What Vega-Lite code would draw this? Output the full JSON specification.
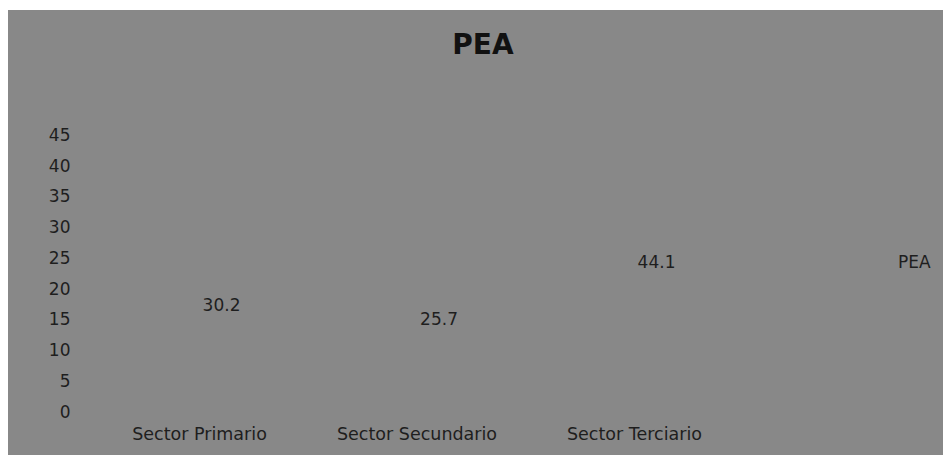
{
  "$schema": "https://vega.github.io/schema/vega-lite/v6.json",
  "width": 935,
  "height": 445,
  "autosize": {"type": "none"},
  "padding": {"left": 8, "top": 10, "right": 0, "bottom": 0},
  "background": "#ffffff",
  "config": {"view": {"fill": "#888888", "stroke": null}, "font": "DejaVu Sans"},
  "title": {"text": "PEA", "fontSize": 28, "fontWeight": "bold", "color": "#111111", "font": "DejaVu Sans", "anchor": "middle", "dx": 7.5, "baseline": "alphabetic", "offset": -72},
  "data": {"values": [
    {"sector": "Sector Primario", "valor": 30.2, "serie": "PEA"},
    {"sector": "Sector Secundario", "valor": 25.7, "serie": "PEA"},
    {"sector": "Sector Terciario", "valor": 44.1, "serie": "PEA"}
  ]},
  "encoding": {
    "x": {"field": "sector", "type": "nominal", "sort": null,
      "scale": {"paddingInner": 0, "paddingOuter": 0.6494, "align": 0.293},
      "axis": {"title": null, "labelAngle": 0, "domain": false, "ticks": false, "tickSize": 0, "labelPadding": -21, "labelBaseline": "middle", "labelFontSize": 17.5, "labelColor": "#1e1e1e", "labelFont": "DejaVu Sans"}}
  },
  "layer": [
    {"mark": {"type": "bar", "opacity": 0},
     "encoding": {"y": {"field": "valor", "type": "quantitative",
        "scale": {"domain": [-6.99, 65.37], "nice": false, "zero": false},
        "axis": {"title": null, "values": [0, 5, 10, 15, 20, 25, 30, 35, 40, 45], "domain": false, "ticks": false, "tickSize": 0, "grid": false, "labelPadding": -62, "labelAlign": "right", "labelBaseline": "middle", "labelFontSize": 17, "labelColor": "#1e1e1e", "labelFont": "DejaVu Sans"}}}},
    {"mark": {"type": "text", "dx": 22, "fontSize": 17, "baseline": "middle", "font": "DejaVu Sans"},
     "encoding": {
       "y": {"field": "valor", "type": "quantitative", "scale": {"domain": [-18.44, 126.66], "nice": false, "zero": false}, "axis": null},
       "text": {"field": "valor", "type": "quantitative", "format": ".1f"},
       "color": {"field": "serie", "type": "nominal", "scale": {"range": ["#1e1e1e"]},
         "legend": {"title": null, "orient": "none", "legendX": 873, "legendY": 244, "symbolOpacity": 0, "symbolSize": 0, "labelOffset": 0, "padding": 0, "labelFontSize": 17, "labelColor": "#1e1e1e", "labelFont": "DejaVu Sans"}}
     }}
  ],
  "resolve": {"scale": {"y": "independent"}}
}
